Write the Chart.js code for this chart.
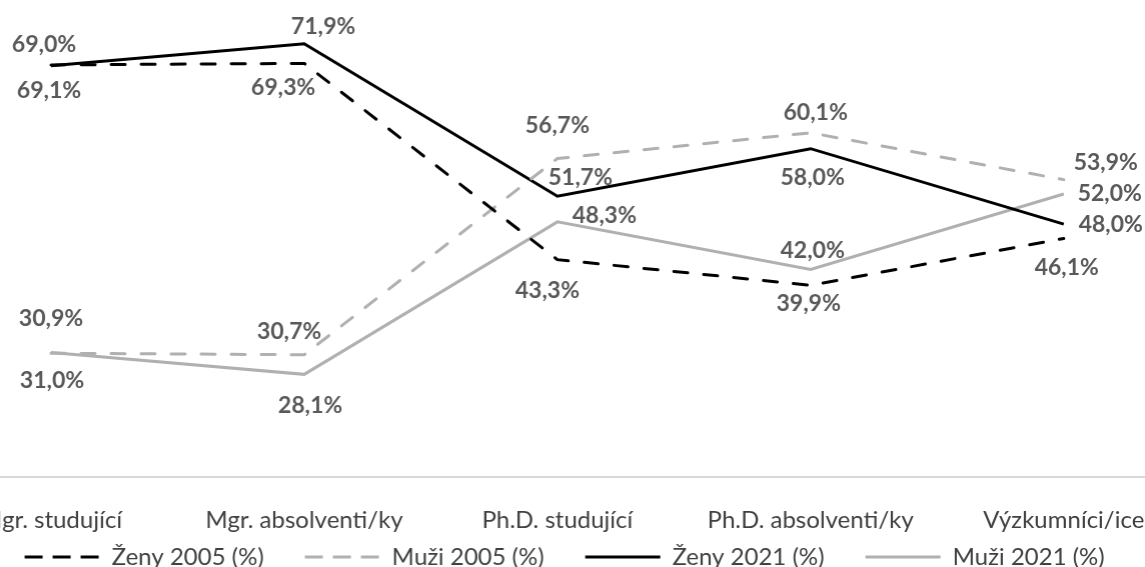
<!DOCTYPE html>
<html>
<head>
<meta charset="utf-8">
<script src="https://cdn.jsdelivr.net/npm/chart.js@4"></script>
<style>
  html, body { margin: 0; padding: 0; background: #fff; overflow: hidden; }
  #wrap { position: absolute; left: -76.6px; top: 0; width: 1282.25px; height: 567px; }
</style>
</head>
<body>
<div id="wrap"><canvas id="myChart"></canvas></div>
<script>
const categories = ['Mgr. studující', 'Mgr. absolventi/ky', 'Ph.D. studující', 'Ph.D. absolventi/ky', 'Výzkumníci/ice']

const zeny2005 = [69.1, 69.3, 43.3, 39.9, 46.1]
const muzi2005 = [30.9, 30.7, 56.7, 60.1, 53.9]
const zeny2021 = [69.0, 71.9, 51.7, 58.0, 48.0]
const muzi2021 = [31.0, 28.1, 48.3, 42.0, 52.0]

// where each value label sits relative to its point (dx, dy in px)
const labelOffsets = [
  [[-2, 26], [-21, 24], [-10, 31], [-2, 18], [3, 29]],
  [[0, -35], [-15, -23], [0, -33], [5, -20], [42, -17]],
  [[-7, -21], [19, -17], [23, -19], [2, 29], [47, 0]],
  [[1, 28], [6, 31], [47, -6], [2, -19], [46, 0]],
]

const black = '#000000'
const gray = '#b0b0b0'
const legendPad = 41
const legendFont = 24

const valueLabels = {
  id: 'valueLabels',
  afterDatasetsDraw(chart) {
    const ctx = chart.ctx
    ctx.save()
    ctx.font = 'bold 23px Lato'
    ctx.fillStyle = '#595959'
    ctx.textAlign = 'center'
    ctx.textBaseline = 'middle'
    chart.data.datasets.forEach((ds, i) => {
      const meta = chart.getDatasetMeta(i)
      meta.data.forEach((pt, j) => {
        const [dx, dy] = labelOffsets[i][j]
        const text = ds.data[j].toFixed(1).replace('.', ',') + '%'
        ctx.fillText(text, pt.x + dx, pt.y + dy)
      })
    })
    ctx.restore()
  },
}

// x axis box is squeezed so the legend can keep its wide padding;
// stretch it back down so the tick labels are not clipped away
const stretchXAxis = {
  id: 'stretchXAxis',
  afterLayout(chart) {
    chart.scales.x.bottom = chart.height
  },
}

function line(label, data, color, dashed) {
  return {
    label,
    data,
    borderColor: color,
    backgroundColor: color,
    borderWidth: 3,
    borderDash: dashed ? [14, 16] : [],
    borderCapStyle: dashed ? 'round' : 'butt',
    pointRadius: 0,
    tension: 0,
  }
}

const ctx = document.getElementById('myChart').getContext('2d')
const myChart = new Chart(ctx, {
  type: 'line',
  data: {
    labels: categories,
    datasets: [
      line('Ženy 2005 (%)', zeny2005, black, true),
      line('Muži 2005 (%)', muzi2005, gray, true),
      line('Ženy 2021 (%)', zeny2021, black, false),
      line('Muži 2021 (%)', muzi2021, gray, false),
    ],
  },
  options: {
    responsive: true,
    maintainAspectRatio: false,
    animation: false,
    layout: { padding: 0 },
    scales: {
      x: {
        offset: true,
        grid: { display: false },
        border: { display: true, color: '#d9d9d9', width: 2 },
        ticks: {
          autoSkip: false,
          maxRotation: 0,
          padding: 20.6,
          color: '#404040',
          font: { family: 'Lato', size: 24 },
        },
        afterFit: s => { s.height = 567 - 477 - (legendFont + legendPad - 2) },
      },
      y: {
        position: 'right',
        min: 14.5,
        max: 77.5,
        grid: { display: false },
        border: { display: false },
        ticks: { display: false },
        afterFit: s => { s.width = 16 },
      },
    },
    plugins: {
      tooltip: { enabled: false },
      legend: {
        position: 'bottom',
        maxHeight: legendFont + legendPad - 2,
        labels: {
          usePointStyle: true,
          pointStyle: 'line',
          pointStyleWidth: 75,
          padding: legendPad,
          color: '#404040',
          font: { family: 'Lato', size: legendFont },
          generateLabels(chart) {
            const items = Chart.defaults.plugins.legend.labels.generateLabels(chart)
            items.forEach(item => {
              const ds = chart.data.datasets[item.datasetIndex]
              item.lineDash = ds.borderDash.length ? [18, 10] : []
              item.lineCap = 'butt'
            })
            return items
          },
        },
      },
    },
  },
  plugins: [valueLabels, stretchXAxis],
})
</script>
</body>
</html>
